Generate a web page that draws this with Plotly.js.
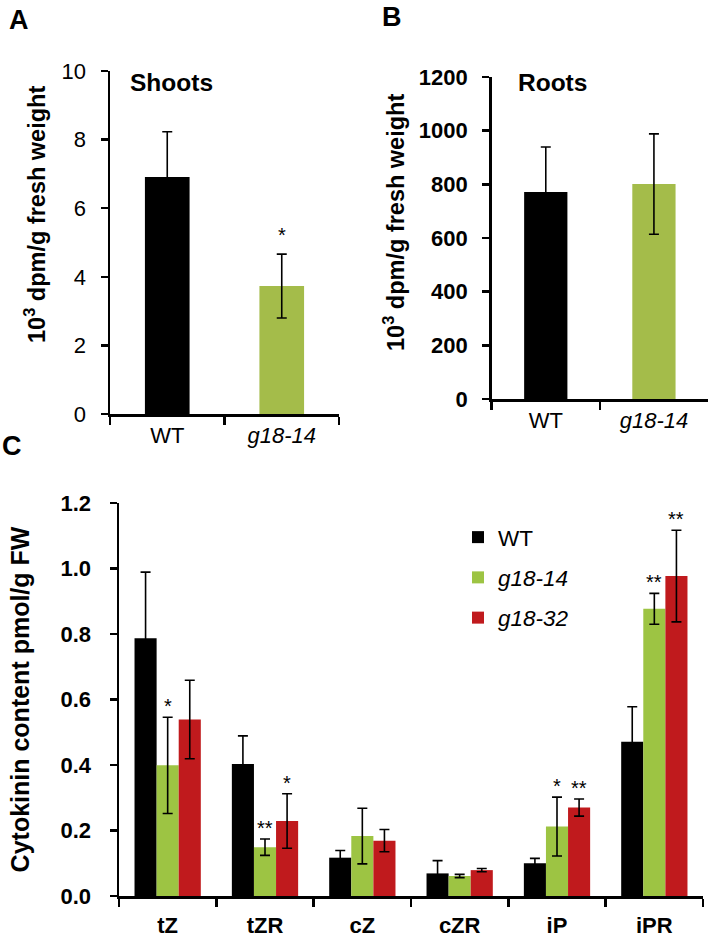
<!DOCTYPE html>
<html>
<head>
<meta charset="utf-8">
<script src="https://cdn.plot.ly/plotly-3.0.1.min.js"></script>
<style>html,body{margin:0;padding:0;background:#fff;}#chart{width:710px;height:942px;}</style>
</head>
<body>
<div id="chart"></div>
<script>
// ---- Data ----
const genotypes = ['WT', 'g18-14'];
const genotypeLabels = ['WT', '<i>g18-14</i>'];
const shootsVals = [6.91, 3.73];
const shootsErr = [1.32, 0.93];
const shootsSig = ['', '*'];
const rootsVals = [771, 801];
const rootsErr = [168, 187];

const compounds = ['tZ', 'tZR', 'cZ', 'cZR', 'iP', 'iPR'];
const compoundLabels = ['<b>tZ</b>', '<b>tZR</b>', '<b>cZ</b>', '<b>cZR</b>', '<b>iP</b>', '<b>iPR</b>'];
const wtVals = [0.787, 0.403, 0.117, 0.069, 0.100, 0.471];
const wtErr = [0.202, 0.086, 0.022, 0.039, 0.015, 0.107];
const g1814Vals = [0.399, 0.149, 0.183, 0.061, 0.212, 0.877];
const g1814Err = [0.147, 0.025, 0.085, 0.005, 0.090, 0.047];
const g1814Sig = ['*', '**', '', '', '*', '**'];
const g1832Vals = [0.539, 0.229, 0.169, 0.079, 0.270, 0.977];
const g1832Err = [0.120, 0.083, 0.034, 0.005, 0.026, 0.140];
const g1832Sig = ['', '*', '', '', '**', '**'];
const seriesNames = ['WT', '<i>g18-14</i>', '<i>g18-32</i>'];
const dpmTitle = '<b>10<sup>3</sup> dpm/g fresh weight</b>';
const cytoTitle = '<b>Cytokinin content pmol/g FW</b>';

// ---- Styles ----
const FONT = 'Arial, "Liberation Sans", Helvetica, sans-serif';
const BLACK = '#000000';
const GREEN_AB = '#A4BC4A';
const GREEN_C = '#9DC443';
const RED = '#C01A1D';
const errStyle = (arr) => ({type: 'data', array: arr, visible: true, color: '#000', thickness: 1.6, width: 5});

const traces = [];
// Panel A
traces.push({type: 'bar', x: genotypes, y: shootsVals, width: 0.39,
  marker: {color: [BLACK, GREEN_AB]}, error_y: errStyle(shootsErr),
  xaxis: 'x', yaxis: 'y', showlegend: false, hoverinfo: 'skip'});
// Panel B
traces.push({type: 'bar', x: genotypes, y: rootsVals, width: 0.4,
  marker: {color: [BLACK, GREEN_AB]}, error_y: errStyle(rootsErr),
  xaxis: 'x2', yaxis: 'y2', showlegend: false, hoverinfo: 'skip'});
// Panel C
const BW = 0.227;
const offsets = [-1.5 * BW, -0.5 * BW, 0.5 * BW];
const cSeries = [
  {vals: wtVals, err: wtErr, color: BLACK, sig: null},
  {vals: g1814Vals, err: g1814Err, color: GREEN_C, sig: g1814Sig},
  {vals: g1832Vals, err: g1832Err, color: RED, sig: g1832Sig}
];
cSeries.forEach((s, k) => {
  traces.push({type: 'bar', name: seriesNames[k], x: compounds, y: s.vals,
    width: BW, offset: offsets[k],
    marker: {color: s.color}, error_y: errStyle(s.err),
    xaxis: 'x3', yaxis: 'y3', legendgroup: 'g' + k, hoverinfo: 'skip'});
});

// Annotations
const annotations = [];
const panelLetter = (t, x, y) => ({text: '<b>' + t + '</b>', xref: 'paper', yref: 'paper', x: x, y: y,
  xanchor: 'center', yanchor: 'middle', showarrow: false, font: {family: FONT, size: 27, color: '#000'}});
annotations.push(panelLetter('A', 19 / 710, 1 - 20 / 942));
annotations.push(panelLetter('B', 392 / 710, 1 - 17 / 942));
annotations.push(panelLetter('C', 12 / 710, 1 - 446 / 942));
annotations.push({text: '<b>Shoots</b>', xref: 'paper', yref: 'paper', x: 171 / 710, y: 1 - 83 / 942,
  xanchor: 'center', yanchor: 'middle', showarrow: false, font: {family: FONT, size: 24.5, color: '#000'}});
annotations.push({text: '<b>Roots</b>', xref: 'paper', yref: 'paper', x: 552 / 710, y: 1 - 83 / 942,
  xanchor: 'center', yanchor: 'middle', showarrow: false, font: {family: FONT, size: 24.5, color: '#000'}});
// y-axis titles for panels A and B (sit above the axis centre in the reference)
annotations.push({text: dpmTitle, xref: 'paper', yref: 'paper', x: 35 / 710, y: 1 - 215 / 942, textangle: -90,
  xanchor: 'center', yanchor: 'middle', showarrow: false, font: {family: FONT, size: 23.5, color: '#000'}});
annotations.push({text: dpmTitle, xref: 'paper', yref: 'paper', x: 394 / 710, y: 1 - 223 / 942, textangle: -90,
  xanchor: 'center', yanchor: 'middle', showarrow: false, font: {family: FONT, size: 23.5, color: '#000'}});
shootsSig.forEach((s, i) => {
  if (!s) return;
  annotations.push({text: s, xref: 'x', yref: 'y', x: i, y: shootsVals[i] + shootsErr[i],
    xanchor: 'center', yanchor: 'bottom', showarrow: false, yshift: 6, font: {family: FONT, size: 20, color: '#000'}});
});
cSeries.forEach((s, k) => {
  if (!s.sig) return;
  s.sig.forEach((t, i) => {
    if (!t) return;
    annotations.push({text: t, xref: 'x3', yref: 'y3', x: i + offsets[k] + BW / 2, y: s.vals[i] + s.err[i],
      xanchor: 'center', yanchor: 'bottom', showarrow: false, yshift: -2, font: {family: FONT, size: 20, color: '#000'}});
  });
});

const baseX = {showline: true, linecolor: '#000', linewidth: 2.5, ticks: 'outside', tickson: 'boundaries',
  ticklen: 8, tickwidth: 2.5, tickcolor: '#000', showgrid: false, zeroline: false, fixedrange: true,
  tickfont: {family: FONT, size: 22, color: '#000'}};
const baseY = {showline: true, linecolor: '#000', linewidth: 2.5, ticks: 'outside', ticklen: 7, tickwidth: 2.5,
  tickcolor: '#000', showgrid: false, zeroline: false, fixedrange: true};

const layout = {
  width: 710, height: 942,
  margin: {l: 0, r: 0, t: 0, b: 0},
  paper_bgcolor: '#fff', plot_bgcolor: 'rgba(0,0,0,0)',
  font: {family: FONT, color: '#000'},
  barmode: 'overlay',
  showlegend: true,
  legend: {x: 458 / 710, y: 1 - 516 / 942, xanchor: 'left', yanchor: 'top', bgcolor: 'rgba(0,0,0,0)',
    font: {family: FONT, size: 22.5, color: '#000'}, traceorder: 'grouped', tracegroupgap: 8},
  xaxis: Object.assign({}, baseX, {domain: [110 / 710, 339 / 710], anchor: 'y', range: [-0.5, 1.5],
    tickvals: genotypes, ticktext: genotypeLabels}),
  yaxis: Object.assign({}, baseY, {domain: [1 - 414 / 942, 1 - 71 / 942], anchor: 'x', range: [0, 10], dtick: 2,
    tickfont: {family: FONT, size: 22, color: '#000'}, ticklabelstandoff: 10}),
  xaxis2: Object.assign({}, baseX, {domain: [491.7 / 710, 708 / 710], anchor: 'y2', range: [-0.5, 1.5],
    tickvals: genotypes, ticktext: genotypeLabels}),
  yaxis2: Object.assign({}, baseY, {domain: [1 - 399 / 942, 1 - 77 / 942], anchor: 'x2', range: [0, 1200], dtick: 200,
    tickfont: {family: FONT, size: 22, color: '#000', weight: 'bold'}, ticklabelstandoff: 10}),
  xaxis3: Object.assign({}, baseX, {domain: [119 / 710, 703 / 710], anchor: 'y3', range: [-0.5, 5.5],
    tickvals: compounds, ticktext: compoundLabels, ticklabelstandoff: 8}),
  yaxis3: Object.assign({}, baseY, {domain: [1 - 896 / 942, 1 - 503 / 942], anchor: 'x3', range: [0, 1.2], dtick: 0.2,
    tickformat: '.1f', tickfont: {family: FONT, size: 22, color: '#000', weight: 'bold'}, ticklabelstandoff: 14,
    title: {text: cytoTitle, font: {family: FONT, size: 25, color: '#000'}, standoff: 24}}),
  annotations: annotations
};

Plotly.newPlot('chart', traces, layout, {staticPlot: true, displayModeBar: false});
</script>
</body>
</html>
